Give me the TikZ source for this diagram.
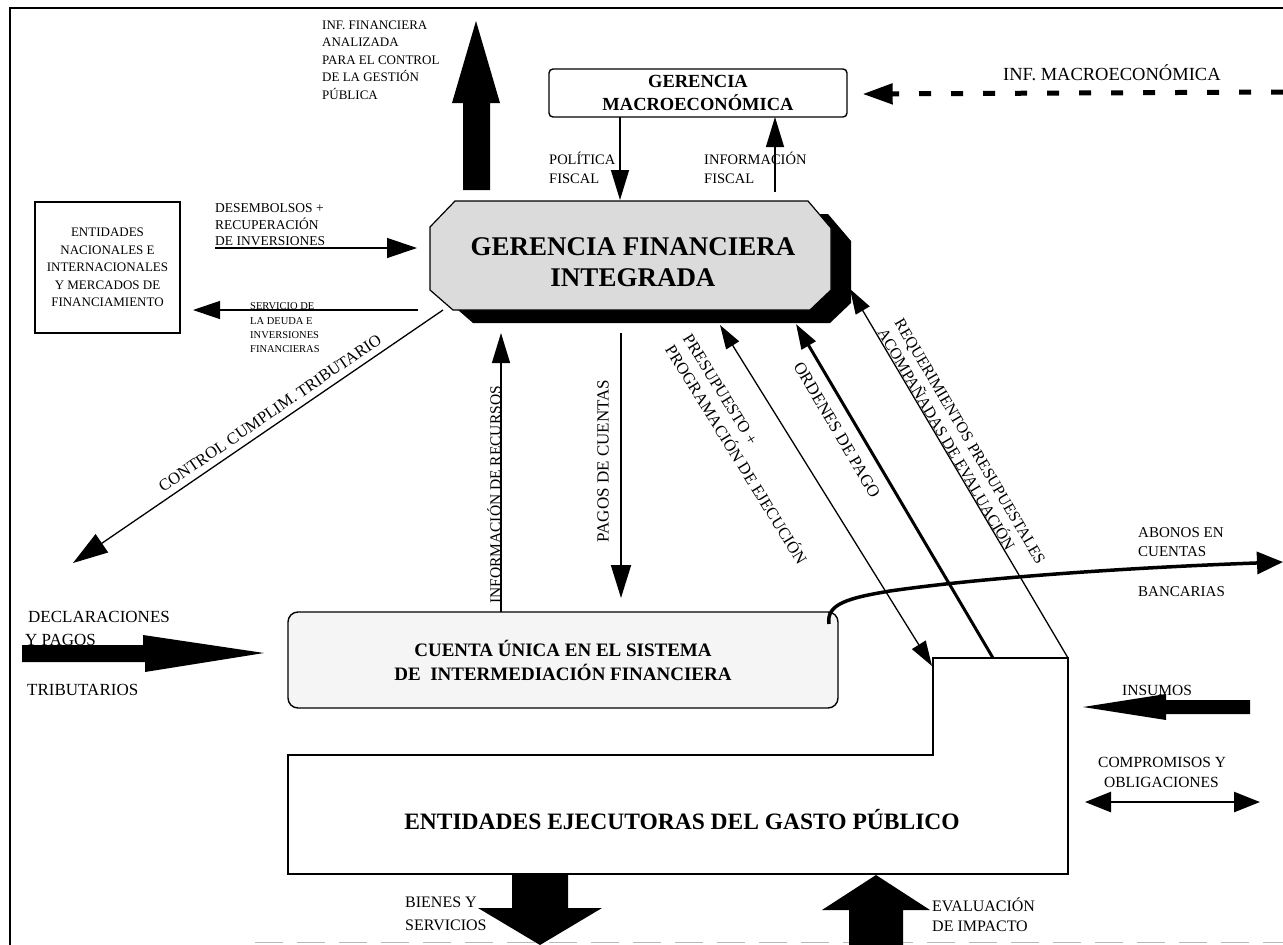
\documentclass[tikz,border=0pt]{standalone}
\usepackage{fontspec}
\setmainfont{Liberation Serif}
\usetikzlibrary{arrows.meta}
\newcommand\fsz[2]{\fontsize{#1}{#2}\selectfont}
\begin{document}
\begin{tikzpicture}[x=1pt,y=-1pt,
  lbl/.style={inner sep=0pt, align=left, anchor=west},
  rlbl/.style={inner sep=0pt},
  boxline/.style={line width=1.4pt},
  thinarr/.style={line width=1.3pt},
  bigtip/.style={-{Triangle[length=30pt,width=18pt]}},
  midtip/.style={-{Triangle[length=25pt,width=16pt]}}
]
\useasboundingbox (0,0) rectangle (1283,945);
\fill[white] (0,0) rectangle (1283,945);

% frame
\draw[line width=2pt] (10,945) -- (10,8) -- (1283,8);
\draw[gray!55, line width=1pt, dash pattern=on 28pt off 14pt] (255,942) -- (1283,942);

% ---------- top ----------
\node[draw, boxline, rounded corners=4pt, minimum width=298pt, minimum height=48pt,
      inner sep=0pt, align=center, font={\fsz{18.5}{23}\bfseries}] (gm) at (698,93)
      {GERENCIA\\MACROECONÓMICA};
\node[lbl, font={\fsz{18.5}{22}}] (infm) at (1003,73) {INF. MACROECONÓMICA};
\coordinate (infmR) at (1283,92);
\draw[line width=5pt, dash pattern=on 12pt off 20pt, -{Triangle[length=30pt,width=20pt]}]
  (infmR) -- ([xshift=15pt,yshift=-1pt]gm.east);

\fill (463,190) -- (463,103) -- (452,103) -- (476,21) -- (500,103) -- (490,103) -- (490,190) -- cycle;
\node[lbl, font={\fsz{13}{17.5}}] (inff) at (322,60)
  {INF. FINANCIERA\\ANALIZADA\\PARA EL CONTROL\\DE LA GESTIÓN\\PÚBLICA};

% GFI octagon with shadow
\fill[black] (475,214) -- (828,214) -- (851,241) -- (851,303) -- (830,323) -- (473,323) -- (450,303) -- (450,240) -- cycle;
\draw[line width=1.2pt, fill=gray!28] (455,201) -- (808,201) -- (831,228) -- (831,290) -- (810,310) -- (453,310) -- (430,290) -- (430,227) -- cycle;
\node[inner sep=0pt, align=center, font={\fsz{27}{31}\bfseries}] (gfi) at (633,262)
  {GERENCIA FINANCIERA\\INTEGRADA};

% politica / informacion fiscal
\coordinate (pfA) at (620,117); \coordinate (pfB) at (620,200);
\coordinate (ifA) at (775,192); \coordinate (ifB) at (775,117);
\draw[thinarr, bigtip] (pfA) -- (pfB);
\draw[thinarr, bigtip] (ifA) -- (ifB);
\node[lbl, font={\fsz{14.5}{19}}] (pfL) at (549,168) {POLÍTICA\\FISCAL};
\node[lbl, font={\fsz{14.5}{19}}] (ifL) at (704,168) {INFORMACIÓN\\FISCAL};

% entidades nacionales
\node[draw, boxline, minimum width=145pt, minimum height=131pt, inner sep=0pt,
      align=center, font={\fsz{13}{17.5}}] (ent) at (107.5,267.5)
  {ENTIDADES\\NACIONALES E\\INTERNACIONALES\\Y MERCADOS DE\\FINANCIAMIENTO};
\coordinate (desA) at (215,248); \coordinate (desB) at (417,248);
\coordinate (serA) at (418,310); \coordinate (serB) at (193,310);
\draw[thinarr, -{Triangle[length=30pt,width=20pt]}] (desA) -- (desB);
\draw[thinarr, -{Triangle[length=27pt,width=18pt]}] (serA) -- (serB);
\node[lbl, font={\fsz{13.5}{16.5}}] (desL) at (215,225) {DESEMBOLSOS +\\RECUPERACIÓN\\DE INVERSIONES};
\node[lbl, font={\fsz{10.5}{14.3}}] (serL) at (250,328) {SERVICIO DE\\LA DEUDA E\\INVERSIONES\\FINANCIERAS};

% control cumplim
\coordinate (ctlA) at (443,310); \coordinate (ctlB) at (73,563);
\draw[thinarr, -{Triangle[length=35pt,width=22pt]}] (ctlA) -- (ctlB);
\node[rlbl, rotate=34.4, font={\fsz{16.5}{20}}] (ctlL) at (270,413) {CONTROL CUMPLIM. TRIBUTARIO};

% cuenta unica
\node[draw, boxline, rounded corners=10pt, fill=gray!8, minimum width=550pt, minimum height=96pt,
      inner sep=0pt, align=center, font={\fsz{19}{24}\bfseries}] (cu) at (563,660)
  {CUENTA ÚNICA EN EL SISTEMA\\DE\ \ INTERMEDIACIÓN FINANCIERA};

\coordinate (irA) at (501,612); \coordinate (irB) at (501,333);
\coordinate (pcA) at (621,333); \coordinate (pcB) at (621,598);
\draw[thinarr, bigtip] (irA) -- (irB);
\draw[line width=1.8pt, -{Triangle[length=33pt,width=20pt]}] (pcA) -- (pcB);
\node[rlbl, rotate=90, font={\fsz{15.5}{19}}] (irL) at (494,495) {INFORMACIÓN DE RECURSOS};
\node[rlbl, rotate=90, font={\fsz{17}{20}}] (pcL) at (603,461) {PAGOS DE CUENTAS};

% entity box
\draw[line width=1.6pt] (288,755) -- (933,755) -- (933,658) -- (1068,658) -- (1068,874) -- (288,874) -- cycle;
\node[inner sep=0pt, font={\fsz{23.5}{28}\bfseries}] (ee) at (682,820) {ENTIDADES EJECUTORAS DEL GASTO PÚBLICO};

% diagonals
\coordinate (prA) at (720,325); \coordinate (prB) at (932,666);
\coordinate (opA) at (993,658); \coordinate (opB) at (796,324);
\coordinate (rqA) at (1068,658); \coordinate (rqB) at (850,289);
\draw[thinarr, {Triangle[length=24pt,width=15pt]}-{Triangle[length=25pt,width=16pt]}] (prA) -- (prB);
\draw[line width=3pt, midtip] (opA) -- (opB);
\draw[thinarr, midtip] (rqA) -- (rqB);
\node[rlbl, rotate=-58.3, anchor=west, align=left, font={\fsz{16.5}{21}}] (prL) at (678,341)
  {PRESUPUESTO +\\PROGRAMACIÓN DE EJECUCIÓN};
\node[rlbl, rotate=-59.5, font={\fsz{17}{20}}] (opL) at (837,430) {ORDENES DE PAGO};
\node[rlbl, rotate=-59.5, anchor=west, align=left, font={\fsz{16}{19.5}}] (rqL) at (890,325)
  {REQUERIMIENTOS PRESUPUESTALES\\ACOMPAÑADAS DE EVALUACIÓN};

% abonos
\coordinate (abA) at (829,624); \coordinate (abB) at (1283,562);
\draw[line width=3.5pt, -{Triangle[length=26pt,width=22pt]}]
  (abA) .. controls (826,604) and (848,598) .. (890,591) .. controls (980,578) and (1120,568) .. (abB);
\node[lbl, font={\fsz{15}{19}}] (abL) at (1138,542) {ABONOS EN\\CUENTAS};
\node[lbl, font={\fsz{15}{19}}] (bcL) at (1138,592) {BANCARIAS};

% declaraciones
\fill (22,645) -- (143,645) -- (143,635) -- (264,653) -- (145,672) -- (145,662) -- (22,662) -- cycle;
\node[lbl, font={\fsz{17}{20}}] (decL) at (28,617) {DECLARACIONES};
\node[lbl, font={\fsz{17}{20}}] (ypL) at (25,640) {Y PAGOS};
\node[lbl, font={\fsz{17}{20}}] (trL) at (27,690) {TRIBUTARIOS};

% insumos
\fill (1250,700) -- (1166,700) -- (1166,694) -- (1083,707) -- (1166,720) -- (1166,714) -- (1250,714) -- cycle;
\node[lbl, font={\fsz{15.5}{19}}] (insL) at (1122,690) {INSUMOS};

% compromisos
\coordinate (coA) at (1085,802); \coordinate (coB) at (1260,802);
\draw[line width=2.5pt, {Triangle[length=26pt,width=20pt]}-{Triangle[length=26pt,width=20pt]}] (coA) -- (coB);
\node[lbl, font={\fsz{15.5}{20}}] (coL) at (1098,772) {COMPROMISOS Y\\\hspace*{6pt}OBLIGACIONES};

% bottom arrows
\fill (512,874) -- (568,874) -- (568,908) -- (602,908) -- (540,945) -- (478,908) -- (512,908) -- cycle;
\node[lbl, font={\fsz{16}{23}}] (bsL) at (405,914) {BIENES Y\\SERVICIOS};
\fill (849,945) -- (849,910) -- (822,910) -- (876,875) -- (930,910) -- (903,910) -- (903,945) -- cycle;
\node[lbl, font={\fsz{16}{20}}] (evL) at (932,915) {EVALUACIÓN\\DE IMPACTO};
\end{tikzpicture}
\end{document}
